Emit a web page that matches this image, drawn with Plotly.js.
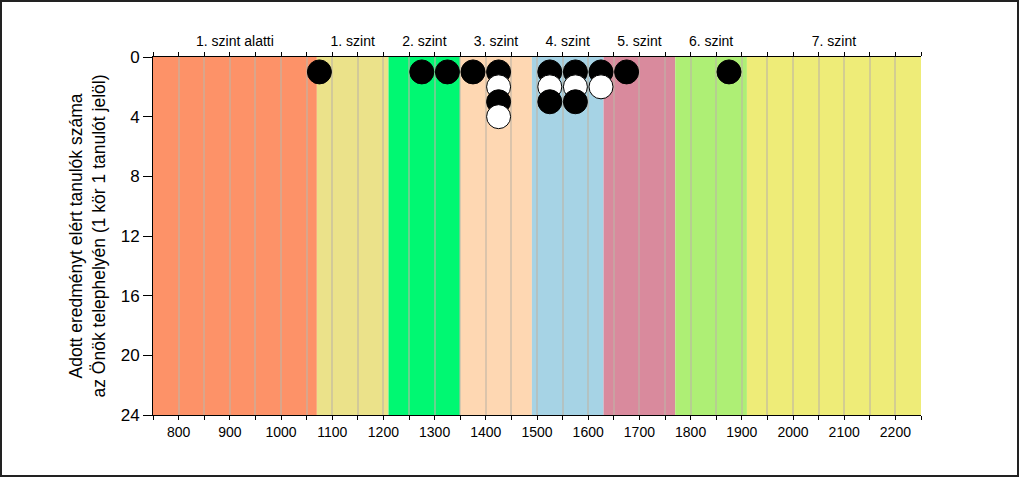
<!DOCTYPE html>
<html>
<head>
<meta charset="utf-8">
<script src="https://cdn.plot.ly/plotly-3.0.1.min.js"></script>
<style>
  body { margin: 0; background: #fff; }
  #chart { width: 1015px; height: 473px; border: 2px solid #222; }
</style>
</head>
<body>
<div id="chart"></div>
<script>
// level bands (score limits) and their names
var levelBounds = [750, 1070, 1210, 1350, 1490, 1630, 1770, 1910, 2250];
var levelNames = ["1. szint alatti", "1. szint", "2. szint", "3. szint",
                  "4. szint", "5. szint", "6. szint", "7. szint"];
var levelColors = ["#fd9268", "#ebe28a", "#00f872", "#fed7b2",
                   "#a6d3e5", "#d98a9d", "#aeef75", "#eeec78"];

// one circle = one student (score bin centre, stack position)
var studentScore = [1075, 1275, 1325, 1375, 1425, 1425, 1425, 1425,
                    1525, 1525, 1525, 1575, 1575, 1575, 1625, 1625, 1675, 1875];
var studentRow = [1, 1, 1, 1, 1, 2, 3, 4,
                  1, 2, 3, 1, 2, 3, 1, 2, 1, 1];

var shapes = [];
var mids = [];
for (var i = 0; i < levelNames.length; i++) {
  shapes.push({
    type: "rect", layer: "below", xref: "x", yref: "paper",
    x0: levelBounds[i], x1: levelBounds[i + 1], y0: 0, y1: 1,
    fillcolor: levelColors[i], line: {width: 0}
  });
  mids.push((levelBounds[i] + levelBounds[i + 1]) / 2);
}

var dots = {
  x: studentScore,
  y: studentRow,
  type: "scatter",
  mode: "markers",
  hoverinfo: "x+y",
  marker: {
    size: 24,
    color: studentRow.map(function (r) { return r % 2 ? "#000" : "#fff"; }),
    line: {color: "#000", width: 1}
  }
};

// invisible trace to hold the top axis with level names
var levelAxis = {
  x: [levelBounds[0], levelBounds[levelBounds.length - 1]],
  y: [0, 0],
  xaxis: "x2",
  type: "scatter",
  mode: "none",
  hoverinfo: "skip"
};

var gridCol = "rgba(190,180,165,0.55)";

var layout = {
  width: 1015,
  height: 473,
  margin: {l: 151, r: 96, t: 55, b: 60},
  paper_bgcolor: "#fff",
  plot_bgcolor: "#fff",
  showlegend: false,
  font: {family: "Liberation Sans, Arial, sans-serif", color: "#000"},
  shapes: shapes,
  xaxis: {
    range: [750, 2250],
    dtick: 100,
    tick0: 0,
    ticks: "outside",
    ticklen: 4,
    tickcolor: "#000",
    showline: true,
    linecolor: "#000",
    linewidth: 1,
    mirror: "ticks",
    showgrid: true,
    gridcolor: gridCol,
    gridwidth: 1.5,
    zeroline: false,
    tickfont: {size: 14},
    minor: {dtick: 50, ticks: "outside", ticklen: 4, tickcolor: "#000",
            showgrid: true, gridcolor: gridCol, gridwidth: 1.5}
  },
  xaxis2: {
    overlaying: "x",
    side: "top",
    range: [750, 2250],
    tickvals: mids,
    ticktext: levelNames,
    ticks: "",
    ticklabelstandoff: 7,
    showgrid: false,
    showline: false,
    zeroline: false,
    tickfont: {size: 14}
  },
  yaxis: {
    range: [24, 0],
    dtick: 4,
    ticks: "outside",
    ticklen: 9,
    tickcolor: "#000",
    showline: true,
    linecolor: "#000",
    showgrid: false,
    zeroline: false,
    tickfont: {size: 17},
    title: {
      text: "Adott eredményt elért tanulók száma<br>az Önök telephelyén (1 kör 1 tanulót jelöl)",
      font: {size: 17.5},
      standoff: 10
    }
  }
};

Plotly.newPlot("chart", [dots, levelAxis], layout, {displayModeBar: false});
</script>
</body>
</html>
